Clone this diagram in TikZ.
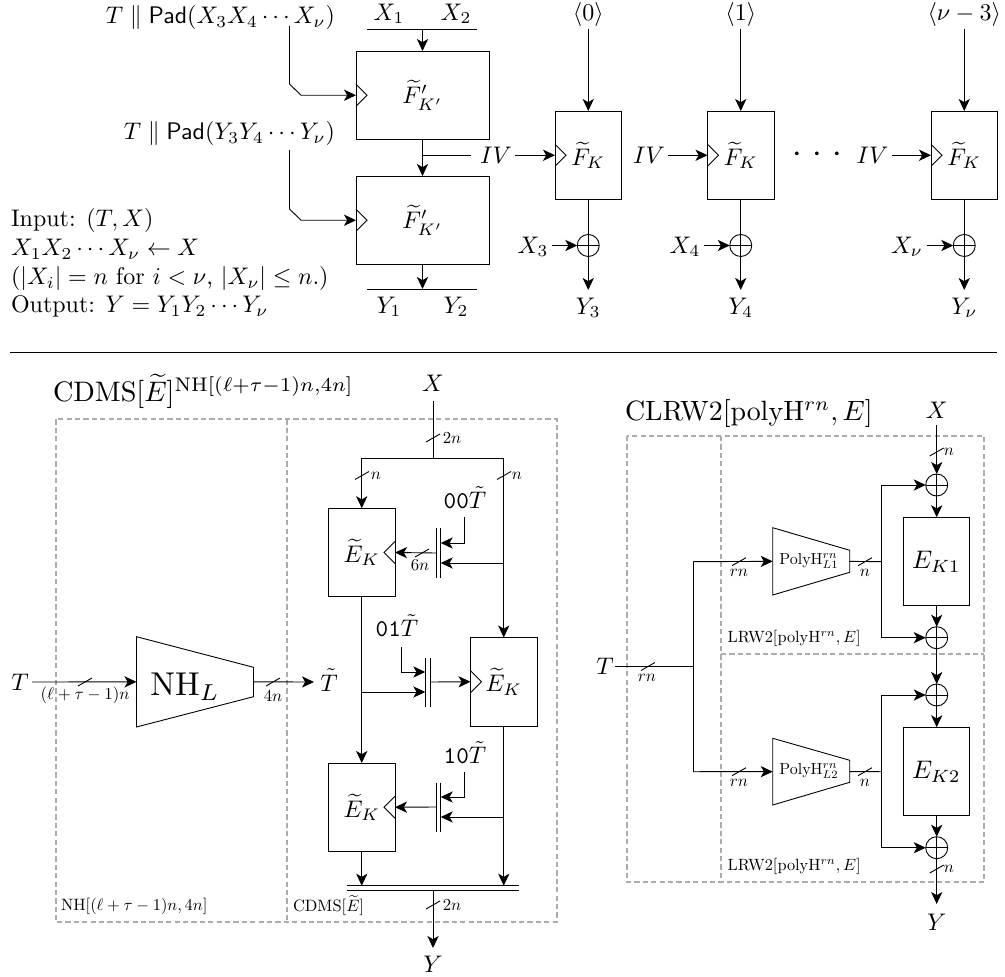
\documentclass[tikz,border=0pt]{standalone}
\usetikzlibrary{arrows.meta}
\tikzset{
  arr/.style={-{Stealth[length=6pt,width=5.6pt,inset=1.6pt]}},
  wire/.style={line width=0.45pt},
  dashbox/.style={draw=gray!65,line width=1pt,dash pattern=on 2.6pt off 1.6pt},
  lbl/.style={inner sep=1.5pt,outer sep=0pt,scale=1.2,transform shape},
  small/.style={inner sep=0pt,outer sep=0pt,scale=0.84,transform shape},
  title/.style={inner sep=0pt,outer sep=0pt,anchor=base west,scale=1.41,transform shape},
  boxf/.style={draw,rectangle,line width=0.45pt,minimum width=33.25pt,minimum height=44.25pt,inner sep=0pt,outer sep=0pt},
  boxw/.style={draw,rectangle,line width=0.45pt,minimum width=66.5pt,minimum height=44.25pt,inner sep=0pt,outer sep=0pt},
  xorn/.style={draw,circle,line width=0.45pt,minimum size=11pt,inner sep=0pt,outer sep=0pt,
    path picture={\draw[line width=0.45pt] (path picture bounding box.north)--(path picture bounding box.south)
      (path picture bounding box.west)--(path picture bounding box.east);}},
}
\newcommand\wirecut[1]{\draw[wire] (#1) ++(-7,4) -- ++(14,-8);}
\newcommand\clkr[1]{\draw[wire] (#1) ++(0,-11) -- ++(11,11) -- ++(-11,11);}
\newcommand\clkl[1]{\draw[wire] (#1) ++(0,-11) -- ++(-11,11) -- ++(11,11);}
\newcommand\muxbar[3]{\begin{scope}[shift={(#2,#3)}]
  \draw[wire] (0,-24.5) -- (0,24.5) (4.7,-24.5) -- (4.7,24.5);
  \coordinate (#1-l) at (0,0); \coordinate (#1-r) at (4.7,0);
  \coordinate (#1-lt) at (0,-10); \coordinate (#1-lb) at (0,10);
  \coordinate (#1-rt) at (4.7,-10); \coordinate (#1-rb) at (4.7,10);
\end{scope}}
\newcommand\trapez[7]{% name, xl, yl top, yl bot, xr, yr top, yr bot
  \draw[wire] (#2,#3) -- (#5,#6) -- (#5,#7) -- (#2,#4) -- cycle;
  \coordinate (#1-w) at (#2,{(#3+#4)/2}); \coordinate (#1-e) at (#5,{(#3+#4)/2});}
\begin{document}
\begin{tikzpicture}[x=0.5pt,y=-0.5pt]
\useasboundingbox (0,0) rectangle (1005,977);
% ---------- top
\node[boxw] (F1) at (422.5,95.25) {\scalebox{1.2}{$\widetilde{F}'_{K'}$}};
\node[boxw] (F2) at (422.5,220.25) {\scalebox{1.2}{$\widetilde{F}'_{K'}$}};
\node[boxf] (FA) at (588.25,155.25) {\scalebox{1.2}{$\widetilde{F}_K$}};
\node[boxf] (FB) at (740.75,155.25) {\scalebox{1.2}{$\widetilde{F}_K$}};
\node[boxf] (FC) at (964.25,155.25) {\scalebox{1.2}{$\widetilde{F}_K$}};
\clkr{F1.west}\clkr{F2.west}\clkr{FA.west}\clkr{FB.west}\clkr{FC.west}
\node[lbl,inner sep=0pt] (tx1) at (389,14) {$X_1$};
\node[lbl,inner sep=0pt] (tx2) at (456,14) {$X_2$};
\node[lbl] (ty1) at (389,307) {$Y_1$};
\node[lbl] (ty2) at (456,307) {$Y_2$};
\coordinate (tl) at (367,29); \coordinate (tr) at (477,29); \coordinate (tm) at (422.5,29);
\coordinate (bl) at (367,289); \coordinate (br) at (477,289); \coordinate (bm) at (422.5,289);
\draw[wire] (tl) -- (tr);
\draw[wire] (bl) -- (br);
\draw[wire,arr] (tm) -- (F1.north);
\draw[wire,arr] (F1.south) -- (F2.north);
\draw[wire,arr] (F2.south) -- (bm);
\node[lbl,anchor=base east,inner sep=0pt] (padx) at (335,23.5) {$T\parallel\textsf{Pad}(X_3X_4\cdots X_\nu)$};
\node[lbl,anchor=base east,inner sep=0pt] (pady) at (335,140) {$T\parallel\textsf{Pad}(Y_3Y_4\cdots Y_\nu)$};
\coordinate (p1) at (289.5,26); \coordinate (p2) at (289.5,150);
\draw[wire,arr] (p1) -- (289.5,84) -- (301,95.25) -- (F1.west);
\draw[wire,arr] (p2) -- (289.5,209) -- (301,220.25) -- (F2.west);
\coordinate (ivj) at (422.5,155.25);
\node[lbl] (iv1) at (496,155) {$IV$};
\node[lbl] (iv2) at (649,155) {$IV$};
\node[lbl] (iv3) at (872.5,155) {$IV$};
\draw[wire,shorten >=3pt] (ivj) -- (iv1.west |- ivj);
\draw[wire,arr] (iv1.east |- FA.west) -- (FA.west);
\draw[wire,arr] (iv2.east |- FB.west) -- (FB.west);
\draw[wire,arr] (iv3.east |- FC.west) -- (FC.west);
\node[inner sep=0pt,outer sep=0pt,font=\LARGE] (dots) at (817.5,155) {$\cdot\hspace{5.3pt}{\cdot}\hspace{5.3pt}{\cdot}$};
\foreach \n/\t/\xx/\s/\xl/\xt/\yt in {A/\langle 0\rangle/588.25/0/533/X_3/Y_3,B/\langle 1\rangle/740.75/0/685/X_4/Y_4,C/\langle\nu-3\rangle/964.25/0/907/X_\nu/Y_\nu}{
  \node[lbl,inner sep=0pt] (top\n) at (\xx,15) {$\t$};
  \coordinate (ti\n) at (\xx,29);
  \draw[wire,arr] (ti\n) -- (F\n.north);
  \node[xorn] (xor\n) at (\xx,245.5) {};
  \node[lbl] (xl\n) at (\xl,247) {$\xt$};
  \draw[wire,arr] (xl\n.east |- xor\n.west) -- (xor\n.west);
  \coordinate (ye\n) at (\xx,290);
  \draw[wire,arr] (F\n.south) -- (ye\n);
  \node[lbl] (yl\n) at (\xx,308) {$\yt$};
}
\node[lbl,anchor=base west,inner sep=0pt] (t1) at (11,227) {Input: $(T,X)$};
\node[lbl,anchor=base west,inner sep=0pt] (t2) at (11,255.5) {$X_1X_2\cdots X_\nu\leftarrow X$};
\node[lbl,anchor=base west,inner sep=0pt] (t3) at (11,284.5) {$(|X_i|=n$ for $i<\nu$, $|X_\nu|\le n$.)};
\node[lbl,anchor=base west,inner sep=0pt] (t4) at (11,312.5) {Output: $Y=Y_1Y_2\cdots Y_\nu$};
\coordinate (r1) at (10,352); \coordinate (r2) at (997,352);
\draw[wire] (r1) -- (r2);
% ---------- CDMS
\coordinate (d1) at (55.5,419.5); \coordinate (d2) at (556.5,922);
\draw[dashbox] (d1) rectangle (d2);
\draw[dashbox] (287,419.5) -- (287,922);
\node[title] (ct) at (53,402) {CDMS$[\widetilde{E}]^{\mathrm{NH}[(\ell+\tau-1)n,4n]}$};
\node[lbl,inner sep=0pt] (tl1) at (20,682) {$T$};
\coordinate (tl1e) at (32,682);
\trapez{nh}{136.5}{636.7}{727}{253.5}{667.3}{696.7}
\node[inner sep=0pt,scale=1.65,transform shape] (nhl) at (185,687) {$\mathrm{NH}_L$};
\coordinate (nhout) at (314,682);
\draw[wire,arr] (tl1e) -- (nh-w);
\draw[wire,arr] (nh-e) -- (nhout);
\wirecut{85,682}\wirecut{273,682}
\node[small] (lb1) at (85,695) {$(\ell+\tau-1)n$};
\node[small] (lb2) at (273,696) {$4n$};
\node[lbl] (ttil) at (329,680) {$\tilde{T}$};
\node[lbl] (xtop) at (433,383) {$X$};
\coordinate (xj) at (433,458.5); \coordinate (xs) at (433,401);
\coordinate (xl) at (362,458.5); \coordinate (xr) at (504,458.5);
\draw[wire] (xs) -- (xj);
\wirecut{433,438}
\node[small] (l2n) at (452,438.5) {$2n$};
\node[boxf] (E1) at (361.75,552.5) {\scalebox{1.2}{$\widetilde{E}_K$}};
\node[boxf] (E2) at (503.75,681.75) {\scalebox{1.2}{$\widetilde{E}_K$}};
\node[boxf] (E3) at (361.75,807.25) {\scalebox{1.2}{$\widetilde{E}_K$}};
\clkl{E1.east}\clkr{E2.west}\clkl{E3.east}
\draw[wire,arr] (xl -| E1.north) -- (E1.north);
\draw[wire] (xl) -- (xr);
\draw[wire,arr] (xr -| E2.north) -- (E2.north);
\wirecut{362,475.5}\wirecut{504,475.5}
\node[small] (ln1) at (376,475.5) {$n$};
\node[small] (ln2) at (517,475.5) {$n$};
\muxbar{m1}{436}{553}
\muxbar{m2}{425.3}{682}
\muxbar{m3}{436}{807}
\draw[wire,arr] (m1-l) -- (E1.east);
\wirecut{422,553}
\node[small] (l6n) at (420,565) {$6n$};
\draw[wire,arr] (m3-l) -- (E3.east);
\draw[wire,arr] (m2-r) -- (E2.west);
\node[lbl,inner sep=0pt] (c00) at (465,498) {$\texttt{00}\tilde{T}$};
\node[lbl,inner sep=0pt] (c01) at (397,626) {$\texttt{01}\tilde{T}$};
\node[lbl,inner sep=0pt] (c10) at (465,753) {$\texttt{10}\tilde{T}$};
\coordinate (q1) at (464.5,517); \coordinate (q2) at (401.7,647); \coordinate (q3) at (464.5,772);
\draw[wire,arr] (q1) |- (m1-rt);
\draw[wire,arr] (q2) |- (m2-lt);
\draw[wire,arr] (q3) |- (m3-rt);
\coordinate (s1) at (504,563); \coordinate (s3) at (504,817); \coordinate (s2) at (362,692);
\draw[wire,arr] (s1) -- (m1-rb);
\draw[wire,arr] (s3) -- (m3-rb);
\draw[wire,arr] (s2) -- (m2-lb);
\draw[wire,arr] (E1.south) -- (E3.north);
\coordinate (dbl) at (346.7,885.7); \coordinate (dbr) at (519,885.7);
\coordinate (dbl2) at (346.7,890); \coordinate (dbr2) at (519,890);
\draw[wire] (dbl) -- (dbr) (dbl2) -- (dbr2);
\draw[wire,arr] (E3.south) -- (E3.south |- dbl);
\draw[wire,arr] (E2.south) -- (E2.south |- dbl);
\coordinate (oj) at (433,890); \coordinate (oe) at (433,948);
\draw[wire,arr] (oj) -- (oe);
\wirecut{433,905}
\node[small] (l2m) at (452,905.5) {$2n$};
\node[lbl] (yout) at (433,964) {$Y$};
\node[small,anchor=west,scale=0.98] (lcd) at (293,906) {CDMS$[\widetilde{E}]$};
\node[small,anchor=west,scale=0.98] (lnh) at (61,906) {NH$[(\ell+\tau-1)n,4n]$};
% ---------- CLRW2
\coordinate (e1) at (626.7,436); \coordinate (e2) at (984,882);
\draw[dashbox] (e1) rectangle (e2);
\draw[dashbox] (721,436) -- (721,882);
\draw[dashbox] (721,654.3) -- (984,654.3);
\node[title,scale=0.99] (cr) at (625,421) {CLRW2[polyH$^{rn},E$]};
\node[lbl,inner sep=0pt] (tr2) at (605,666) {$T$};
\coordinate (tj) at (693.3,666.5); \coordinate (ts) at (615,666.5);
\coordinate (tu) at (693.3,561.7); \coordinate (td) at (693.3,771.7);
\draw[wire] (ts) -- (tj);
\draw[wire] (tu) -- (td);
\wirecut{648,666.5}
\node[small] (lrn0) at (647,678) {$rn$};
\trapez{p1}{772.7}{527.7}{595}{849.7}{550.3}{572.3}
\trapez{p2}{772.7}{738.3}{805}{849.7}{760.3}{782.3}
\node[small,scale=0.95] (pl1) at (809,561) {PolyH$^{rn}_{L1}$};
\node[small,scale=0.95] (pl2) at (809,771) {PolyH$^{rn}_{L2}$};
\draw[wire,arr] (tu) -- (p1-w);
\draw[wire,arr] (td) -- (p2-w);
\wirecut{739,561.7}\wirecut{739,771.7}
\node[small] (lrn1) at (739,573) {$rn$};
\node[small] (lrn2) at (739,783) {$rn$};
\coordinate (oa) at (881.3,561.7); \coordinate (ob) at (881.3,771.7);
\draw[wire] (p1-e) -- (oa);
\draw[wire] (p2-e) -- (ob);
\wirecut{865,561.7}\wirecut{865,771.7}
\node[small] (ln3) at (865,573) {$n$};
\node[small] (ln4) at (865,783) {$n$};
\node[xorn] (xa) at (936.7,485) {};
\node[xorn] (xb) at (936.7,637.7) {};
\node[xorn] (xc) at (936.7,695) {};
\node[xorn] (xd) at (936.7,847.7) {};
\node[boxf] (EA) at (936.25,561.5) {\scalebox{1.27}{$E_{K1}$}};
\node[boxf] (EB) at (936.25,771.5) {\scalebox{1.27}{$E_{K2}$}};
\draw[wire] (oa |- xa) -- (oa |- xb);
\draw[wire] (ob |- xc) -- (ob |- xd);
\draw[wire,arr] (oa |- xa) -- (xa.west);
\draw[wire,arr] (oa |- xb) -- (xb.west);
\draw[wire,arr] (ob |- xc) -- (xc.west);
\draw[wire,arr] (ob |- xd) -- (xd.west);
\node[lbl] (xt2) at (936.7,410) {$X$};
\coordinate (xs2) at (936.7,425);
\draw[wire,arr] (xs2) -- (xa.north);
\wirecut{936.7,452}
\node[small] (ln5) at (949,451.5) {$n$};
\draw[wire,arr] (xa.south) -- (xa.south |- EA.north);
\draw[wire,arr] (xb |- EA.south) -- (xb.north);
\draw[wire,arr] (xb.south) -- (xc.north);
\draw[wire,arr] (xc.south) -- (xc.south |- EB.north);
\draw[wire,arr] (xd |- EB.south) -- (xd.north);
\coordinate (ye2) at (936.7,904);
\draw[wire,arr] (xd.south) -- (ye2);
\wirecut{936.7,869}
\node[small] (ln6) at (949,869) {$n$};
\node[lbl] (yt2) at (936.7,922) {$Y$};
\node[small,anchor=west,scale=0.97] (ll1) at (727.7,638.3) {LRW2[polyH$^{rn},E$]};
\node[small,anchor=west,scale=0.97] (ll2) at (727.7,866.7) {LRW2[polyH$^{rn},E$]};
\end{tikzpicture}
\end{document}
